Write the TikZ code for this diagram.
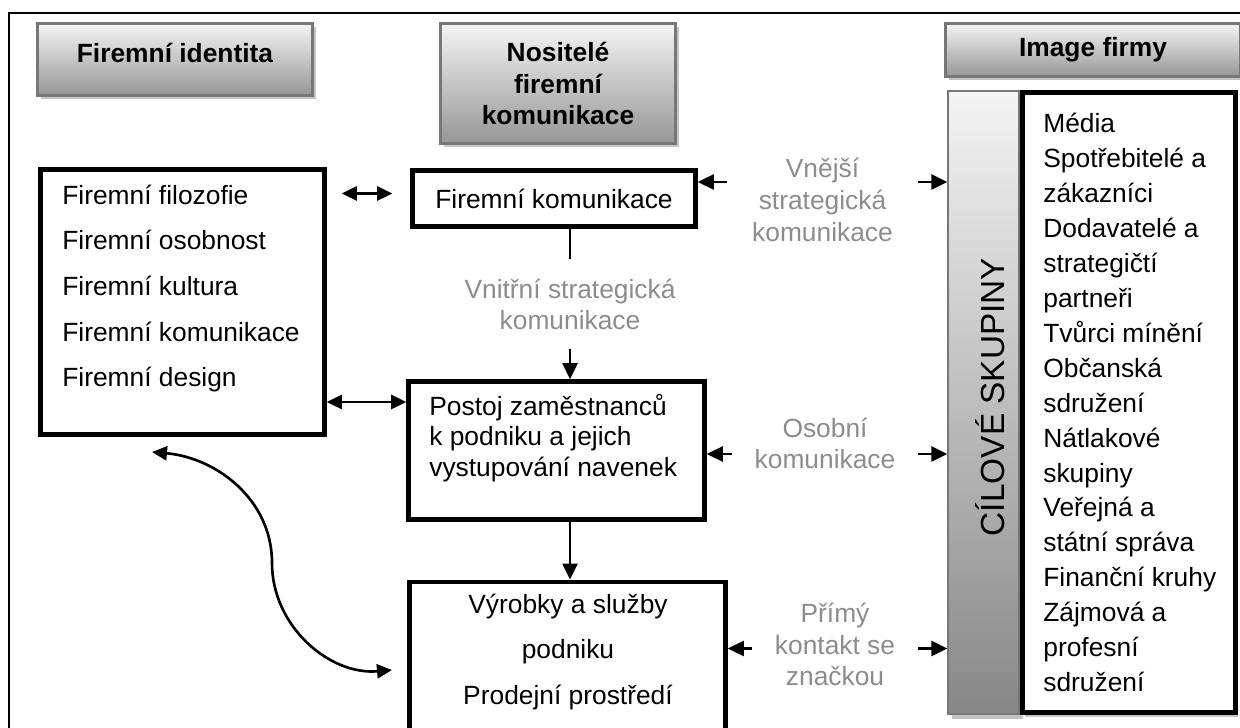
\documentclass[tikz,border=0pt]{standalone}
\usepackage{fontspec}
\setmainfont{Liberation Sans}
\usetikzlibrary{arrows.meta, positioning, shadows}
\definecolor{head-top}{HTML}{F4F4F4}
\definecolor{head-bottom}{HTML}{969696}
\definecolor{head-border}{HTML}{777777}
\definecolor{shadow-color}{HTML}{C4C4C4}
\definecolor{comm-color}{HTML}{8C8C8C}
\tikzset{
  head-node/.style={
    draw=head-border, line width=1.2pt, top color=head-top, bottom color=head-bottom,
    align=center, font=\fontsize{15}{17.8}\selectfont\bfseries,
    drop shadow={shadow xshift=0.07cm, shadow yshift=-0.07cm, fill=shadow-color, opacity=1}
  },
  bar-node/.style={
    draw=head-border, line width=0.8pt, top color=head-top, bottom color=head-bottom!90!black,
    drop shadow={shadow xshift=0.07cm, shadow yshift=-0.09cm, fill=shadow-color, opacity=1}
  },
  box-node/.style={draw, line width=2.6pt, fill=white},
  item-text/.style={inner sep=0pt, align=left, font=\fontsize{15}{26}\selectfont},
  comm-label/.style={text=comm-color, align=center, font=\fontsize{15}{18}\selectfont},
  flow/.style={-{Triangle[length=0.32cm, width=0.3cm]}, line width=1.5pt},
  both-flow/.style={{Triangle[length=0.3cm, width=0.28cm]}-{Triangle[length=0.3cm, width=0.28cm]}, line width=1.5pt}
}
\begin{document}
\begin{tikzpicture}
  \useasboundingbox (0,0) rectangle (24.8,-14.56);
  \clip (0,0) rectangle (24.8,-14.56);
  \draw[line width=1.1pt] (0.18,-15.5) |- (25.5,-0.26);

  % column headings
  \node[head-node, minimum width=5.5cm, minimum height=1.44cm, text depth=0.25cm] (idhead) at (3.5,-1.19) {Firemní identita};
  \node[head-node, minimum width=4.7cm, minimum height=2.4cm] (carhead) at (11.16,-1.67) {Nositelé\\firemní\\komunikace};
  \node[head-node, minimum width=5.9cm, minimum height=1.06cm] (imghead) at (21.86,-1.0) {Image firmy};

  % identity
  \node[box-node, minimum width=5.68cm, minimum height=5.3cm] (idbox) at (3.65,-6.04) {};
  \node[item-text, anchor=west] (idtext) at (1.24,-5.77)
    {Firemní filozofie\\Firemní osobnost\\Firemní kultura\\Firemní komunikace\\Firemní design};

  % carriers
  \node[box-node, minimum width=5.66cm, minimum height=1.12cm, font=\fontsize{15}{18}\selectfont] (fkbox) at (11.08,-3.97) {Firemní komunikace};
  \node[comm-label, inner ysep=0.38cm] (intlabel) at (11.4,-6.09) {Vnitřní strategická\\komunikace};
  \node[box-node, minimum width=5.92cm, minimum height=2.76cm] (postbox) at (11.13,-9.01) {};
  \node[item-text, anchor=west, font=\fontsize{15}{17.2}\selectfont] (posttext) at (8.58,-8.76)
    {Postoj zaměstnanců\\k podniku a jejich\\vystupování navenek};
  \node[box-node, anchor=north, minimum width=6.32cm, minimum height=4cm] (prodbox) at (11.35,-11.59) {};
  \node[item-text, align=center] (prodtext) at (11.36,-13.04) {Výrobky a služby\\podniku\\Prodejní prostředí};

  % target groups
  \node[bar-node, minimum width=1.42cm, minimum height=12.46cm] (grpbar) at (19.67,-8.05) {};
  \node[rotate=90, font=\fontsize{19}{22}\selectfont] (grplabel) at (19.8,-7.94) {CÍLOVÉ SKUPINY};
  \node[box-node, minimum width=4.26cm, minimum height=12.4cm,
    drop shadow={shadow xshift=0.05cm, shadow yshift=-0.09cm, fill=shadow-color, opacity=1}] (grpbox) at (22.58,-8.05) {};
  \node[item-text, anchor=west, font=\fontsize{15}{19.9}\selectfont] (grptext) at (20.86,-8.05)
    {Média\\Spotřebitelé a\\zákazníci\\Dodavatelé a\\strategičtí\\partneři\\Tvůrci mínění\\Občanská\\sdružení\\Nátlakové\\skupiny\\Veřejná a\\státní správa\\Finanční kruhy\\Zájmová a\\profesní\\sdružení};

  % communication channels
  \node[comm-label, minimum width=3.82cm] (extlabel) at (16.45,-4.0) {Vnější\\strategická\\komunikace};
  \node[comm-label, minimum width=3.72cm] (perslabel) at (16.5,-8.87) {Osobní\\komunikace};
  \node[comm-label, minimum width=3.32cm] (directlabel) at (16.7,-12.89) {Přímý\\kontakt se\\značkou};

  \draw[flow] ([yshift=0.36cm]extlabel.west) -- ([yshift=0.36cm]extlabel.west -| fkbox.east);
  \draw[flow] ([yshift=0.36cm]extlabel.east) -- ([yshift=0.36cm]extlabel.east -| grpbar.west);
  \draw[flow] ([yshift=-0.21cm]perslabel.west) -- ([yshift=-0.21cm]perslabel.west -| postbox.east);
  \draw[flow] ([yshift=-0.21cm]perslabel.east) -- ([yshift=-0.21cm]perslabel.east -| grpbar.west);
  \draw[flow] ([yshift=-0.08cm]directlabel.west) -- ([yshift=-0.08cm]directlabel.west -| prodbox.east);
  \draw[flow] ([yshift=-0.08cm]directlabel.east) -- ([yshift=-0.08cm]directlabel.east -| grpbar.west);

  \draw[line width=1.5pt] (intlabel.north |- fkbox.south) -- (intlabel.north);
  \draw[flow] (intlabel.south) -- (intlabel.south |- postbox.north);
  \draw[flow] (postbox.south -| intlabel) -- (prodbox.north -| intlabel);

  \draw[both-flow, shorten <=0.3cm, shorten >=0.36cm] ([yshift=0.1cm]fkbox.west -| idbox.east) -- ([yshift=0.1cm]fkbox.west);
  \draw[both-flow] ([yshift=0.97cm]postbox.west -| idbox.east) -- ([yshift=0.97cm]postbox.west);

  % identity <-> products
  \coordinate (curvestart) at (3.04,-9.04);
  \coordinate (swing) at (5.44,-11.26);
  \coordinate (curveend) at (7.84,-13.4);
  \draw[both-flow] (curvestart) to[out=-5, in=90] (swing) to[out=-90, in=185] (curveend);
\end{tikzpicture}
\end{document}
